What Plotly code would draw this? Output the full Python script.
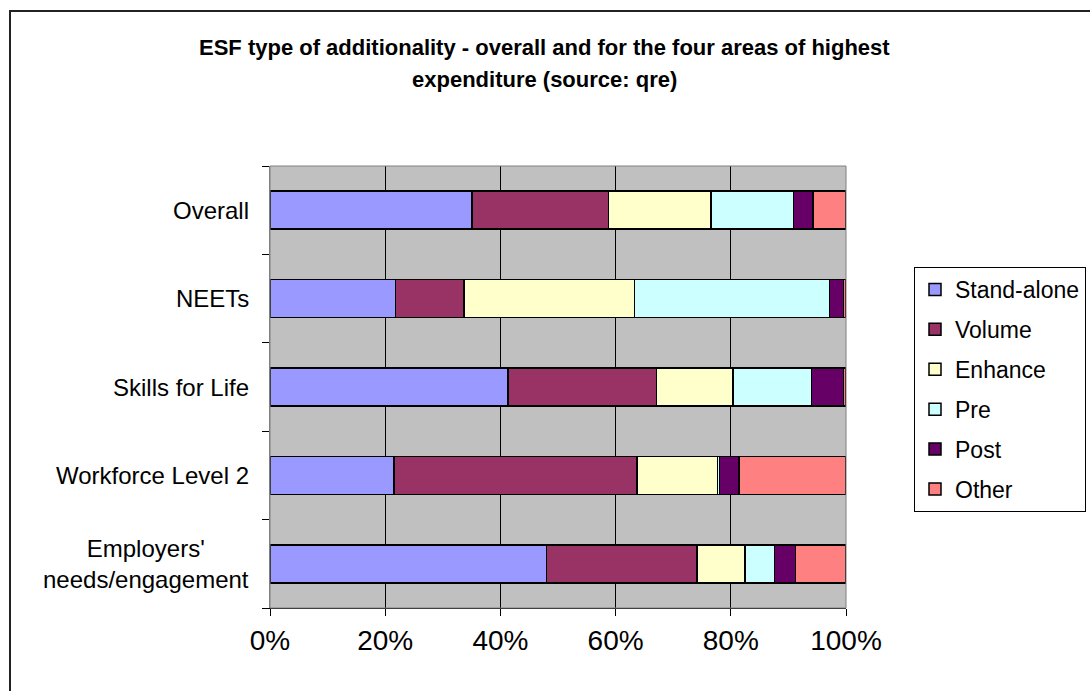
import plotly.graph_objects as go

categories = ["Overall", "NEETs", "Skills for Life", "Workforce Level 2", "Employers'<br>needs/engagement"]
series_names = ["Stand-alone", "Volume", "Enhance", "Pre", "Post", "Other"]
stand_alone = [35.1, 21.8, 41.3, 21.5, 48.0]
volume = [23.7, 11.9, 25.8, 42.2, 26.1]
enhance = [17.8, 29.6, 13.3, 14.0, 8.4]
pre = [14.3, 33.8, 13.6, 0.3, 5.1]
post = [3.4, 2.5, 5.6, 3.4, 3.6]
other = [5.7, 0.4, 0.4, 18.6, 8.8]
x_ticks = [0, 20, 40, 60, 80, 100]

series_values = [stand_alone, volume, enhance, pre, post, other]
colors = ["#9999FF", "#993366", "#FFFFCC", "#CCFFFF", "#660066", "#FF8080"]

FONT = "Arial, Liberation Sans, sans-serif"
W, H = 1090, 691
L, R, T, B = 270, 846, 166, 608
PW, PH = R - L, B - T

def px(x):
    return (x - L) / PW

def py(y):
    return (B - y) / PH

fig = go.Figure()
for name, vals, col in zip(series_names, series_values, colors):
    fig.add_trace(go.Bar(
        y=categories, x=vals, name=name, orientation="h",
        marker=dict(color=col, line=dict(color="black", width=1.5)),
        legendgroup=name,
    ))

annotations = [
    dict(text="<b>ESF type of additionality - overall and for the four areas of highest</b>",
         xref="paper", yref="paper", x=px(544), y=py(47), xanchor="center", yanchor="middle",
         showarrow=False, font=dict(family=FONT, size=22, color="black")),
    dict(text="<b>expenditure (source: qre)</b>",
         xref="paper", yref="paper", x=px(544), y=py(79), xanchor="center", yanchor="middle",
         showarrow=False, font=dict(family=FONT, size=22, color="black")),
]
for c in categories:
    annotations.append(dict(text=c, xref="paper", yref="y", x=px(251), y=c,
                            xanchor="right", yanchor="middle", align="center",
                            showarrow=False, font=dict(family=FONT, size=24, color="black")))

fig.update_layout(
    width=W, height=H, autosize=False,
    margin=dict(l=L, r=W - R, t=T, b=H - B, pad=0, autoexpand=False),
    barmode="stack", bargap=0.57,
    paper_bgcolor="white", plot_bgcolor="#C0C0C0",
    font=dict(family=FONT, color="black"),
    showlegend=True,
    legend=dict(x=px(914), y=py(267), xanchor="left", yanchor="top",
                bordercolor="black", borderwidth=1, bgcolor="white",
                font=dict(family=FONT, size=23, color="black"),
                traceorder="grouped", tracegroupgap=7),
    annotations=annotations,
    shapes=[
        dict(type="rect", xref="paper", yref="paper", x0=0, x1=1, y0=0, y1=1,
             line=dict(color="#808080", width=1), layer="above"),
        dict(type="rect", xref="paper", yref="paper", x0=px(10), x1=px(1110), y0=py(710), y1=py(11),
             line=dict(color="#222222", width=2)),
    ],
    xaxis=dict(range=[0, 100], tickvals=x_ticks, ticktext=[f"{v}%" for v in x_ticks],
               showgrid=True, gridcolor="black", gridwidth=1, zeroline=False,
               showline=True, linecolor="black", linewidth=1,
               ticks="outside", ticklen=7, tickcolor="black",
               tickfont=dict(family=FONT, size=28, color="black")),
    yaxis=dict(type="category", categoryorder="array", categoryarray=categories[::-1],
               showticklabels=False, showgrid=False, zeroline=False,
               showline=True, linecolor="#808080", linewidth=1,
               ticks="outside", tickson="boundaries", ticklen=7, tickcolor="black"),
)

fig.write_html("out.html")
